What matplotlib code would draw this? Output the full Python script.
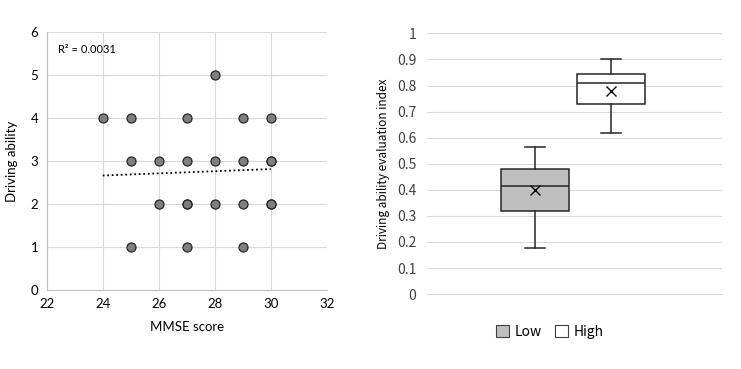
import os

os.environ.setdefault("MPLCONFIGDIR", "/tmp/matplotlib")
from matplotlib import pyplot as plt
from matplotlib.patches import Patch

# scatter: MMSE score vs driving ability (duplicates drawn twice look heavier)
mmse = [24, 25, 25, 25, 26, 26, 27, 27, 27, 27, 27, 28, 28, 28,
        29, 29, 29, 29, 30, 30, 30, 30, 30]
driving = [4, 4, 3, 1, 3, 2, 4, 3, 2, 2, 1, 5, 3, 2,
           4, 3, 2, 1, 4, 3, 3, 2, 2]
trend_x = [24, 30]
trend_y = [2.66, 2.81]
r_squared = "R² = 0.0031"

# box plot: driving ability evaluation index by group
groups = ["Low", "High"]
whisker_low = [0.175, 0.618]
q1 = [0.320, 0.728]
median = [0.415, 0.810]
q3 = [0.478, 0.843]
whisker_high = [0.565, 0.903]
means = [0.400, 0.780]
box_colors = ["#bfbfbf", "#ffffff"]

GRID = "#d9d9d9"
TEXT = "#404040"

fig = plt.figure(figsize=(7.41, 3.69), dpi=100)

# left scatter panel
ax1 = fig.add_axes([0.063, 0.214, 0.378, 0.700])
ax1.scatter(mmse, driving, s=42, color="#7f7f7f", edgecolors="#262626",
            linewidths=0.9, zorder=3)
ax1.plot(trend_x, trend_y, color="black", linestyle=(0, (1, 1.5)),
         linewidth=1.3, zorder=2)
ax1.text(0.04, 0.93, r_squared, transform=ax1.transAxes, fontsize=8,
         family="Lato", color="black", va="center")
ax1.set_xlim(22, 32)
ax1.set_ylim(0, 6)
ax1.set_xticks(range(22, 33, 2))
ax1.set_yticks(range(0, 7))
ax1.grid(True, color=GRID, linewidth=0.8)
ax1.set_axisbelow(True)
for side in ("top", "right"):
    ax1.spines[side].set_visible(False)
for side in ("left", "bottom"):
    ax1.spines[side].set_color("#bfbfbf")
ax1.tick_params(length=0, labelsize=9.5, labelcolor="black", pad=6)
for label in ax1.get_xticklabels() + ax1.get_yticklabels():
    label.set_family("Lato")
ax1.set_xlabel("MMSE score", fontsize=9.5, family="Lato", labelpad=8)
ax1.set_ylabel("Driving ability", fontsize=9.5, family="Lato", labelpad=9)

# right box panel
ax2 = fig.add_axes([0.5767, 0.203, 0.397, 0.7065])
stats = []
for i in range(len(groups)):
    stats.append({
        "label": groups[i],
        "whislo": whisker_low[i],
        "q1": q1[i],
        "med": median[i],
        "q3": q3[i],
        "whishi": whisker_high[i],
        "mean": means[i],
        "fliers": [],
    })
boxes = ax2.bxp(
    stats,
    positions=[1, 2],
    widths=0.9,
    capwidths=0.27,
    showmeans=True,
    patch_artist=True,
    boxprops={"edgecolor": "#262626", "linewidth": 1.1},
    medianprops={"color": "#262626", "linewidth": 1.1},
    whiskerprops={"color": "#262626", "linewidth": 1.1},
    capprops={"color": "#262626", "linewidth": 1.1},
    meanprops={"marker": "x", "markeredgecolor": "black",
               "markersize": 7, "markeredgewidth": 1.0},
)
for patch, color in zip(boxes["boxes"], box_colors):
    patch.set_facecolor(color)
ax2.set_xlim(-0.42, 3.46)
ax2.set_ylim(0, 1)
ax2.set_yticks([i / 10 for i in range(11)])
ax2.set_yticklabels(["0", "0.1", "0.2", "0.3", "0.4", "0.5", "0.6", "0.7",
                     "0.8", "0.9", "1"])
ax2.set_xticks([])
ax2.yaxis.grid(True, color=GRID, linewidth=0.8)
ax2.set_axisbelow(True)
for side in ("top", "right", "left"):
    ax2.spines[side].set_visible(False)
ax2.spines["bottom"].set_color(GRID)
ax2.tick_params(length=0, labelsize=10, labelcolor=TEXT, pad=8)
for label in ax2.get_yticklabels():
    label.set_family("Noto Sans CJK JP")
ax2.set_ylabel("Driving ability evaluation index", fontsize=8.5,
               family="Noto Sans CJK JP", labelpad=5)

handles = [Patch(facecolor=c, edgecolor="#404040", linewidth=0.8)
           for c in box_colors]
fig.legend(handles, groups, loc="center", bbox_to_anchor=(0.742, 0.101),
           ncol=2, frameon=False, handlelength=0.9, handleheight=0.9,
           handletextpad=0.4, columnspacing=1.0,
           prop={"family": "Noto Sans CJK JP", "size": 10})

fig.savefig("out.png", dpi=100)
